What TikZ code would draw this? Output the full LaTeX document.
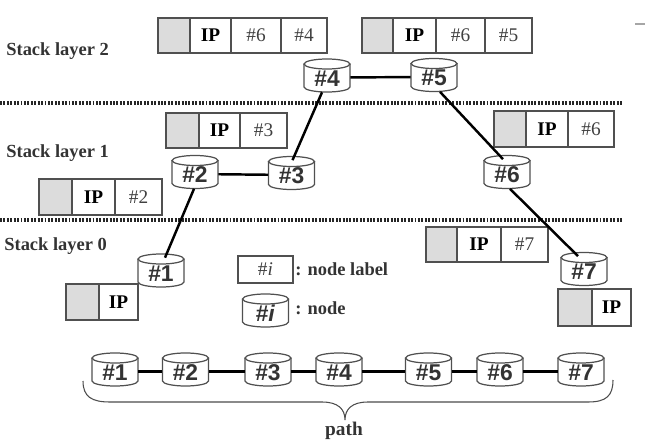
\documentclass[tikz,border=0pt]{standalone}
\usepackage{fontspec}
\setmainfont{Liberation Serif}
\newfontfamily\arialf{Liberation Sans}
\definecolor{cellgray}{HTML}{DCDCDC}
\definecolor{edgegray}{HTML}{505050}
\definecolor{txtgray}{HTML}{404040}
\newcommand\pcell[7]{\node[#6, minimum width={(#3-#2)*0.02cm}, minimum height={(#5-#4)*0.02cm}] (#1) at ({(#2+#3)/2},{(#4+#5)/2}) {#7};}
\newcommand\cylnode[4]{%
  \draw[cylline] ({#2-23},{#3-11.5}) -- ({#2-23},{#3+11.5}) arc[start angle=180,end angle=360,x radius=0.46cm,y radius=0.1cm] -- ({#2+23},{#3-11.5});
  \draw[cylline,fill=white] (#2,{#3-11.5}) ellipse[x radius=0.46cm,y radius=0.1cm];
  \node[cyltext] (#1) at (#2,{#3+2}) {#4};}
\begin{document}
\begin{tikzpicture}[x=0.02cm,y=-0.02cm,
  cell/.style={draw=edgegray, line width=0.6pt, inner sep=0pt, font=\fontsize{11}{11}\selectfont, text=txtgray},
  graycell/.style={cell, fill=cellgray},
  ipcell/.style={cell, font=\fontsize{11}{11}\selectfont\bfseries, text=black},
  cylline/.style={draw=edgegray, line width=0.7pt},
  cyltext/.style={minimum width=0.92cm, minimum height=0.58cm, inner sep=0pt, text height=10pt, text depth=0pt, font=\arialf\fontsize{13}{13}\selectfont\bfseries, text=black!80},
  link/.style={line width=1.4pt, black},
  layerline/.style={line width=1.8pt, dash pattern=on 1.1pt off 0.85pt, black!85},
  lbl/.style={font=\fontsize{10.5}{10.5}\selectfont\bfseries, text=black!80, inner sep=0pt, anchor=west},
  brace/.style={draw=black!70, line width=0.6pt}]
\useasboundingbox (0,0) rectangle (649,446);

% layer separators
\draw[layerline] (0,103) -- (622,103);
\draw[layerline] (0,220) -- (622,220);

% layer labels
\node[lbl] (L2) at (6,51) {Stack layer 2};
\node[lbl] (L1) at (6,153) {Stack layer 1};
\node[lbl] (L0) at (4,246) {Stack layer 0};

% packet labels
\pcell{p4a}{158}{190}{18}{53}{graycell}{}
\pcell{p4b}{190}{231}{18}{53}{ipcell}{IP}
\pcell{p4c}{231}{281}{18}{53}{cell}{\#6}
\pcell{p4d}{281}{327}{18}{53}{cell}{\#4}

\pcell{p5a}{362}{393}{18}{53}{graycell}{}
\pcell{p5b}{393}{436}{18}{53}{ipcell}{IP}
\pcell{p5c}{436}{485}{18}{53}{cell}{\#6}
\pcell{p5d}{485}{532}{18}{53}{cell}{\#5}

\pcell{p3a}{166}{199}{113}{148}{graycell}{}
\pcell{p3b}{199}{240}{113}{148}{ipcell}{IP}
\pcell{p3c}{240}{287}{113}{148}{cell}{\#3}

\pcell{p2a}{39}{72}{179}{215}{graycell}{}
\pcell{p2b}{72}{115}{179}{215}{ipcell}{IP}
\pcell{p2c}{115}{162}{179}{215}{cell}{\#2}

\pcell{p6a}{494}{526}{111}{147}{graycell}{}
\pcell{p6b}{526}{568}{111}{147}{ipcell}{IP}
\pcell{p6c}{568}{614}{111}{147}{cell}{\#6}

\pcell{p7a}{426}{457}{227}{262}{graycell}{}
\pcell{p7b}{457}{501}{227}{262}{ipcell}{IP}
\pcell{p7c}{501}{548}{227}{262}{cell}{\#7}

\pcell{p1a}{66}{99}{284}{320}{graycell}{}
\pcell{p1b}{99}{138}{284}{320}{ipcell}{IP}

\pcell{q7a}{558}{592}{289}{326}{graycell}{}
\pcell{q7b}{592}{631}{289}{326}{ipcell}{IP}

% nodes in the stack layers
\cylnode{n4}{327}{75.5}{\#4}
\cylnode{n5}{434}{75}{\#5}
\cylnode{n2}{195}{172}{\#2}
\cylnode{n3}{291.5}{173}{\#3}
\cylnode{n6}{507}{172}{\#6}
\cylnode{n1}{161}{270.5}{\#1}
\cylnode{n7}{584}{269}{\#7}

\draw[link] (n4) -- (n5);
\draw[link] ([xshift=-0.1cm]n4.south) -- ([xshift=0.02cm]n3.north);
\draw[link] (n2) -- (n3);
\draw[link] ([xshift=-0.02cm]n2.south) -- ([xshift=0.08cm]n1.north);
\draw[link] ([xshift=0.12cm]n5.south) -- ([xshift=-0.08cm]n6.north);
\draw[link] ([xshift=0.06cm]n6.south) -- ([xshift=-0.12cm]n7.north);

% legend
\pcell{lgbox}{238}{293}{256}{283}{cell}{\#\textit{i}}
\node[lbl] (lgt1) at (295,269) {: node label};
\cylnode{lgcyl}{265.5}{310.5}{\#\textit{i}}
\node[lbl] (lgt2) at (295,308) {: node};

% path row
\cylnode{r1}{115}{369.5}{\#1}
\cylnode{r2}{185.5}{369.5}{\#2}
\cylnode{r3}{268}{369.5}{\#3}
\cylnode{r4}{339}{369.5}{\#4}
\cylnode{r5}{428.5}{369.5}{\#5}
\cylnode{r6}{500}{369.5}{\#6}
\cylnode{r7}{581}{369.5}{\#7}
\draw[link] (r1) -- (r2);
\draw[link] (r2) -- (r3);
\draw[link] (r3) -- (r4);
\draw[link] (r4) -- (r5);
\draw[link] (r5) -- (r6);
\draw[link] (r6) -- (r7);

% brace
\draw[brace] (83,381) .. controls (83,397) and (92,402) .. (110,402) -- (322,402)
  .. controls (338,402) and (345,409) .. (345,420)
  .. controls (345,409) and (352,402) .. (368,402) -- (588,402)
  .. controls (606,402) and (613,396) .. (613,380);
\node[font=\fontsize{11}{11}\selectfont\bfseries, text=black!80, inner sep=0pt] (pathlbl) at (344,431) {path};

% stray mark
\draw[black!35, line width=1.2pt] (635,24) -- (645,24);
\end{tikzpicture}
\end{document}
